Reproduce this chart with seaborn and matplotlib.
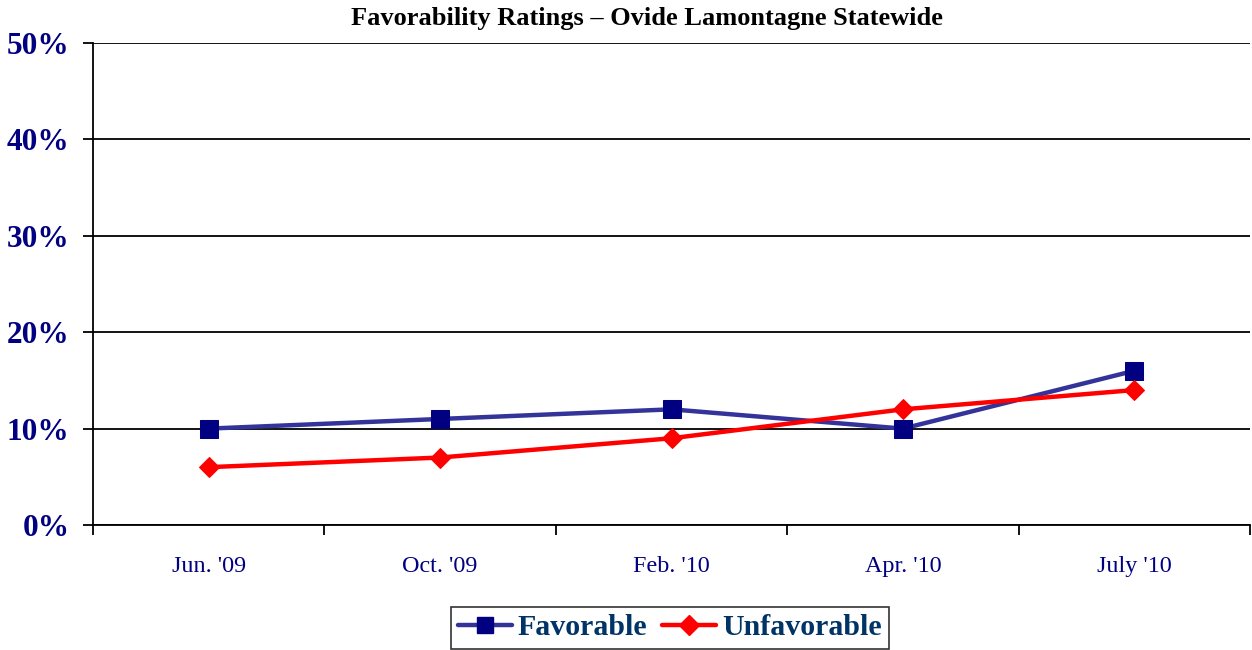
import pandas as pd
import numpy as np
import matplotlib.pyplot as plt
import seaborn as sns
from matplotlib.ticker import FixedLocator, PercentFormatter
from matplotlib.lines import Line2D

months = ["Jun. '09", "Oct. '09", "Feb. '10", "Apr. '10", "July '10"]
favorable = [0.10, 0.11, 0.12, 0.10, 0.16]
unfavorable = [0.06, 0.07, 0.09, 0.12, 0.14]

navy = "#000080"
fav_line = "#333399"
unf_red = "#FF0000"
serif = ["Liberation Serif", "DejaVu Serif"]

sns.set_style("white")
plt.rcParams["font.family"] = serif

fig = plt.figure(figsize=(12.52, 6.5), dpi=100)
ax = fig.add_axes([0.0743, 0.1923, 0.9241, 0.7415])

df = pd.DataFrame({"month": months, "fav": favorable, "unf": unfavorable})
df["pos"] = np.arange(len(months))

sns.lineplot(data=df, x="pos", y="fav", ax=ax, color=fav_line, linewidth=3.2,
             marker="s", markersize=13, markerfacecolor=navy, markeredgecolor=navy, zorder=4)
sns.lineplot(data=df, x="pos", y="unf", ax=ax, color=unf_red, linewidth=3.2,
             marker="D", markersize=10, markerfacecolor=unf_red, markeredgecolor=unf_red, zorder=5)

ax.set_xlim(-0.5, len(months) - 0.5)
ax.set_ylim(0, 0.5)
ax.set_xlabel("")
ax.set_ylabel("")

ax.set_yticks(np.arange(0, 0.51, 0.1))
ax.yaxis.set_major_formatter(PercentFormatter(1.0, decimals=0))
ax.set_xticks(df["pos"])
ax.set_xticklabels(months)
ax.xaxis.set_minor_locator(FixedLocator(np.arange(-0.5, len(months), 1.0)))

ax.grid(axis="y", color="black", linewidth=1.3)
ax.set_axisbelow(True)
for s in ["top", "right"]:
    ax.spines[s].set_visible(False)
for s in ["left", "bottom"]:
    ax.spines[s].set_color("black")
    ax.spines[s].set_linewidth(1.3)

ax.tick_params(axis="y", which="major", left=True, length=7, width=1.3, color="black",
               labelsize=22.5, labelcolor=navy, pad=10)
for t in ax.get_yticklabels():
    t.set_fontweight("bold")
ax.tick_params(axis="x", which="major", length=0, labelsize=17.4, labelcolor=navy, pad=22)
ax.tick_params(axis="x", which="minor", bottom=True, length=7, width=1.3, color="black")

fig.suptitle("Favorability Ratings \u2013 Ovide Lamontagne Statewide", x=0.517, y=0.989,
             fontsize=19, fontweight="bold", color="black")

handles = [
    Line2D([0], [0], color=fav_line, linewidth=3.2, marker="s", markersize=12,
           markerfacecolor=navy, markeredgecolor=navy),
    Line2D([0], [0], color=unf_red, linewidth=3.2, marker="D", markersize=10,
           markerfacecolor=unf_red, markeredgecolor=unf_red),
]
leg = fig.legend(handles, ["Favorable", "Unfavorable"], loc="center", bbox_to_anchor=(0.535, 0.034),
                 ncol=2, frameon=True, fancybox=False, edgecolor="black", handlelength=1.8,
                 columnspacing=0.5, handletextpad=0.2, borderpad=0.25, borderaxespad=0.2,
                 prop={"family": serif, "weight": "bold", "size": 21.5})
leg.get_frame().set_linewidth(1.2)
for t in leg.get_texts():
    t.set_color("#003366")

fig.savefig("out.png", dpi=100)
